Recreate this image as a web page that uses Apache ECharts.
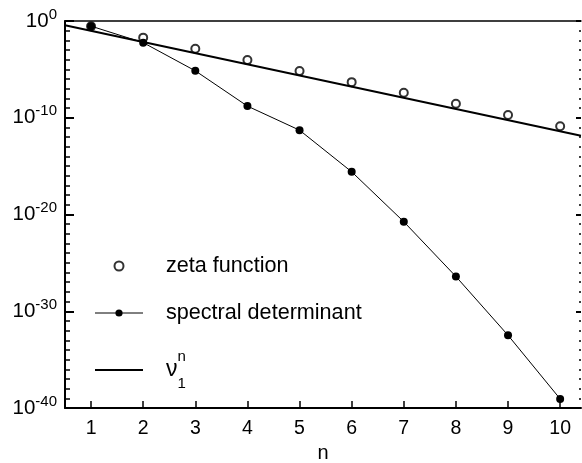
<!DOCTYPE html>
<html>
<head>
<meta charset="utf-8">
<script src="https://cdn.jsdelivr.net/npm/echarts@6/dist/echarts.min.js"></script>
<style>
html,body{margin:0;padding:0;background:#fff;}
#main{width:582px;height:463px;}
</style>
</head>
<body>
<div id="main"></div>
<script>
// n 取值
var n_values = [1, 2, 3, 4, 5, 6, 7, 8, 9, 10];
// zeta function (空心圆)
var zeta_values = [2.8e-1, 1.9e-2, 1.35e-3, 9.1e-5, 6.6e-6, 4.8e-7, 3.8e-8, 2.8e-9, 1.9e-10, 1.35e-11];
// spectral determinant (实心圆 + 连线)
var spectral_values = [2.95e-1, 5.8e-3, 7.1e-6, 1.6e-9, 5.2e-12, 2.6e-16, 1.8e-21, 3.9e-27, 3.3e-33, 8.7e-40];
// nu_1^n 直线两端点
var nu_line_n = [0.5, 10.4];
var nu_line_values = [3.55e-1, 1.41e-12];
// 坐标轴范围 (y 轴为 10 的幂次)
var x_range = [0.5, 10.4];
var y_exp_range = [-40, 0];

var font_family = '"Liberation Sans", Arial, Helvetica, sans-serif';

// 对数坐标: 数值取 log10 后放到幂次轴上
function to_log_pairs(xs, ys) {
	var arr = [];
	for (var i = 0; i < xs.length; i++) {
		arr.push([xs[i], Math.log(ys[i]) / Math.LN10]);
	}
	return arr;
}

// y 轴刻度文字 10^k
function y_label(val) {
	return '{b|10}{sup|' + Math.round(val) + '}';
}

function exp_axis(pos, tick_len, minor_len, show_line, show_label) {
	return {
		type: 'value',
		position: pos,
		min: y_exp_range[0],
		max: y_exp_range[1],
		interval: 10,
		splitLine: { show: false },
		minorSplitLine: { show: false },
		axisLine: { show: show_line, onZero: false, lineStyle: { color: '#000', width: 2 } },
		axisTick: { show: true, inside: true, length: tick_len, lineStyle: { color: '#000', width: 2 } },
		minorTick: { show: true, splitNumber: 10, length: minor_len, lineStyle: { color: '#000', width: 1.5 } },
		axisLabel: {
			show: show_label,
			margin: 8,
			formatter: y_label,
			color: '#000',
			fontSize: 20,
			fontFamily: font_family,
			rich: {
				b: { fontSize: 20.5, lineHeight: 28, fontFamily: font_family, color: '#000' },
				sup: { fontSize: 15, lineHeight: 14, verticalAlign: 'top', fontFamily: font_family, color: '#000' }
			}
		}
	};
}

var chart = echarts.init(document.getElementById('main'));
var option = {
	animation: false,
	backgroundColor: '#fff',
	grid: { left: 65, right: 1, top: 21, bottom: 55, containLabel: false, outerBoundsMode: 'none' },
	legend: {
		orient: 'vertical',
		left: 89,
		top: 250,
		itemWidth: 48,
		itemHeight: 9,
		itemGap: 25,
		data: [
			{ name: 'zeta function' },
			{ name: 'spectral determinant', lineStyle: { width: 1 } },
			{ name: 'nu', itemStyle: { color: 'rgba(0,0,0,0)', borderColor: 'rgba(0,0,0,0)' } }
		],
		formatter: function (name) {
			if (name === 'nu') return '{nu|ν}{sub|1}{sup|n}';
			return name;
		},
		textStyle: {
			fontSize: 21.6,
			color: '#000',
			fontFamily: font_family,
			padding: [0, 0, 0, 18],
			rich: {
				nu: { fontSize: 23, lineHeight: 42, fontFamily: font_family, color: '#000' },
				sub: { fontSize: 15, lineHeight: 15, width: 0, verticalAlign: 'bottom', fontFamily: font_family, color: '#000' },
				sup: { fontSize: 15, lineHeight: 15, verticalAlign: 'top', fontFamily: font_family, color: '#000' }
			}
		}
	},
	xAxis: [{
		type: 'value',
		min: x_range[0],
		max: x_range[1],
		splitNumber: 10,
		name: 'n',
		nameLocation: 'middle',
		nameGap: 33,
		nameTextStyle: { fontSize: 20, color: '#000', fontFamily: font_family },
		splitLine: { show: false },
		axisLine: { onZero: false, lineStyle: { color: '#000', width: 2 } },
		axisTick: { inside: true, length: 7, lineStyle: { color: '#000', width: 1.5 } },
		axisLabel: {
			margin: 11,
			fontSize: 19.5,
			color: '#000',
			fontFamily: font_family,
			showMinLabel: false,
			showMaxLabel: false,
			formatter: function (v) { return v % 1 === 0 ? String(v) : ''; }
		}
	}, {
		type: 'value',
		position: 'top',
		min: x_range[0],
		max: x_range[1],
		splitLine: { show: false },
		axisLine: { onZero: false, lineStyle: { color: '#000', width: 1.5 } },
		axisTick: { show: false },
		axisLabel: { show: false }
	}],
	yAxis: [
		exp_axis('left', 9, 5, true, true),
		exp_axis('right', 5, 2, false, false)
	],
	series: [{
		name: 'nu',
		type: 'line',
		symbol: 'none',
		lineStyle: { color: '#000', width: 2 },
		itemStyle: { color: '#000' },
		data: to_log_pairs(nu_line_n, nu_line_values)
	}, {
		name: 'zeta function',
		type: 'scatter',
		symbol: 'emptyCircle',
		symbolSize: 8,
		itemStyle: { color: '#000', borderWidth: 1.2 },
		data: to_log_pairs(n_values, zeta_values)
	}, {
		name: 'spectral determinant',
		type: 'line',
		symbol: 'circle',
		symbolSize: 8,
		lineStyle: { color: '#000', width: 1 },
		itemStyle: { color: '#000' },
		data: to_log_pairs(n_values, spectral_values)
	}]
};
chart.setOption(option, true);
</script>
</body>
</html>
